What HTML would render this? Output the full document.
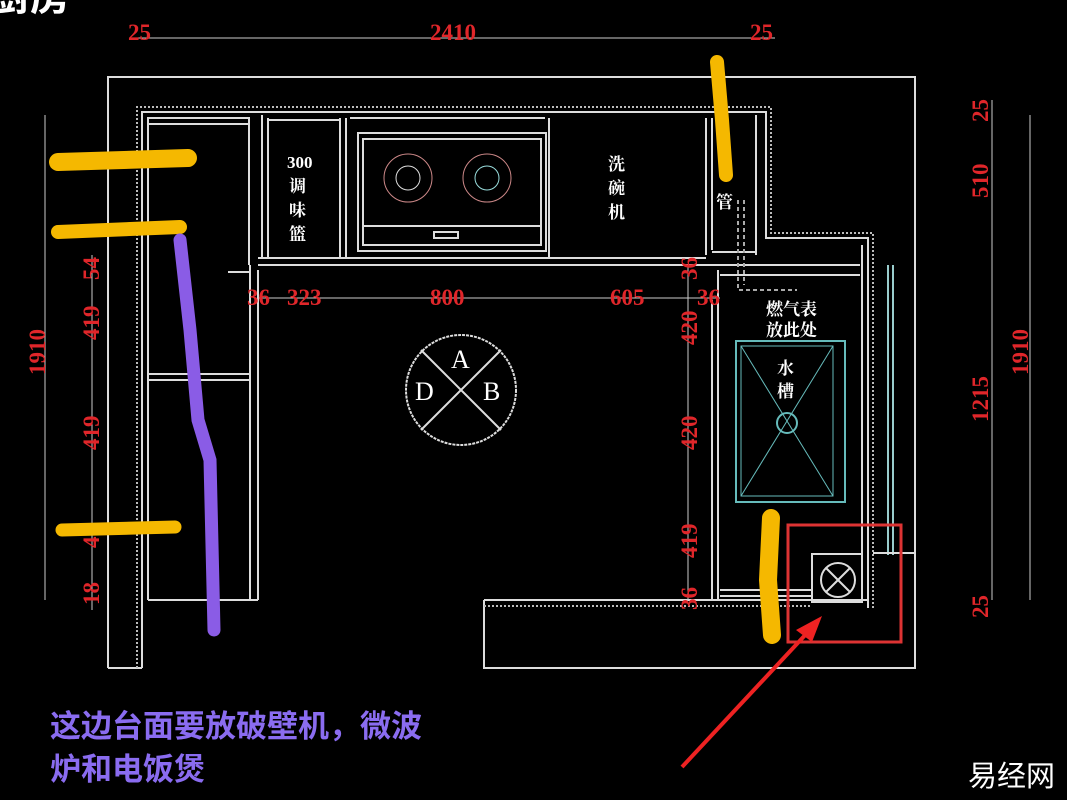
<!DOCTYPE html>
<html><head><meta charset="utf-8"><style>
html,body{margin:0;padding:0;background:#000;width:1067px;height:800px;overflow:hidden}
svg{display:block}
.r{fill:#e0262a;font-family:"Liberation Serif","Noto Serif CJK SC",serif;font-size:23px;font-weight:bold}
.w{fill:#fff;font-family:"Liberation Serif","Noto Serif CJK SC",serif;font-size:17px;font-weight:bold}
</style></head><body>
<svg width="1067" height="800" viewBox="0 0 1067 800">
<g stroke="#ddd" stroke-width="2" fill="none">
<polyline points="108,668 108,77 915,77 915,668 484,668 484,600"/>
<line x1="108" y1="668" x2="142" y2="668"/>
<polyline points="142,668 142,112 766,112 766,238 868,238 868,608"/>
<polyline points="137,668 137,107 771,107 771,233 873,233 873,608" stroke-dasharray="2,2" stroke="#bbb"/>
<polyline points="484,600 868,600"/>
<polyline points="484,606 812,606" stroke-dasharray="2,2" stroke="#bbb"/>
<polyline points="148,600 148,118 249,118 249,265"/>
<line x1="148" y1="124" x2="249" y2="124"/>
<line x1="148" y1="374" x2="250" y2="374"/>
<line x1="148" y1="380" x2="250" y2="380"/>
<line x1="148" y1="600" x2="258" y2="600"/>
<line x1="250" y1="265" x2="250" y2="600"/>
<line x1="258" y1="270" x2="258" y2="600"/>
<line x1="228" y1="272" x2="250" y2="272"/>
<line x1="258" y1="258" x2="706" y2="258"/>
<line x1="258" y1="265" x2="860" y2="265"/>
<line x1="262" y1="115" x2="262" y2="258"/>
<line x1="268" y1="118" x2="268" y2="258"/>
<line x1="340" y1="118" x2="340" y2="258"/>
<line x1="346" y1="118" x2="346" y2="258"/>
<line x1="268" y1="120" x2="340" y2="120"/>
<line x1="350" y1="118" x2="545" y2="118"/>
<line x1="549" y1="118" x2="549" y2="258"/>
<rect x="358" y="133" width="188" height="118"/>
<rect x="363" y="139" width="178" height="106"/>
<line x1="363" y1="226" x2="541" y2="226"/>
<rect x="434" y="232" width="24" height="6"/>
<line x1="706" y1="118" x2="706" y2="255"/>
<line x1="712" y1="118" x2="712" y2="250"/>
<line x1="712" y1="252" x2="756" y2="252"/>
<line x1="756" y1="115" x2="756" y2="255"/>
<line x1="712" y1="300" x2="712" y2="600"/>
<line x1="718" y1="270" x2="718" y2="600"/>
<line x1="720" y1="275" x2="860" y2="275"/>
<line x1="720" y1="590" x2="812" y2="590"/>
<line x1="720" y1="596" x2="812" y2="596"/>
<polyline points="738,200 738,290 797,290" stroke-dasharray="4,3" stroke="#aaa"/>
<line x1="744" y1="200" x2="744" y2="285" stroke-dasharray="4,3" stroke="#aaa"/>
<line x1="862" y1="245" x2="862" y2="600"/>
<line x1="888" y1="265" x2="888" y2="555" stroke="#9cc"/>
<line x1="893" y1="265" x2="893" y2="555" stroke="#9cc"/>
<line x1="873" y1="553" x2="915" y2="553"/>
<rect x="812" y="554" width="50" height="48"/>
<circle cx="838" cy="580" r="17"/>
<line x1="826" y1="568" x2="850" y2="592"/><line x1="850" y1="568" x2="826" y2="592"/>
<circle cx="461" cy="390" r="55" stroke-dasharray="3,1"/>
<line x1="421" y1="350" x2="501" y2="430"/><line x1="501" y1="350" x2="421" y2="430"/>
</g>
<g fill="none" stroke="#c88">
<circle cx="408" cy="178" r="24"/><circle cx="408" cy="178" r="12" stroke="#ddd"/>
<circle cx="487" cy="178" r="24"/><circle cx="487" cy="178" r="12" stroke="#9dd"/>
</g>
<g fill="none" stroke="#6bb" stroke-width="2">
<rect x="736" y="341" width="109" height="161"/>
<rect x="741" y="346" width="92" height="150" stroke-width="1"/>
<line x1="741" y1="346" x2="833" y2="496" stroke-width="1"/><line x1="833" y1="346" x2="741" y2="496" stroke-width="1"/>
<circle cx="787" cy="423" r="10"/>
</g>
<g stroke="#ccc" stroke-width="1">
<line x1="130" y1="38" x2="775" y2="38"/>
<line x1="92" y1="255" x2="92" y2="610"/>
<line x1="45" y1="115" x2="45" y2="600"/>
<line x1="258" y1="298" x2="720" y2="298"/>
<line x1="688" y1="265" x2="688" y2="600"/>
<line x1="992" y1="100" x2="992" y2="600"/>
<line x1="1030" y1="115" x2="1030" y2="600"/>
</g>
<g class="r">
<text x="128" y="40">25</text><text x="430" y="40">2410</text><text x="750" y="40">25</text>
<text x="247" y="305">36</text><text x="287" y="305">323</text><text x="430" y="305">800</text><text x="610" y="305">605</text><text x="697" y="305">36</text>
<g transform="rotate(-90)">
<text x="-280" y="99">54</text><text x="-340" y="99">419</text><text x="-450" y="99">419</text><text x="-548" y="99">41</text><text x="-605" y="99">18</text>
<text x="-375" y="45">1910</text>
<text x="-280" y="697">36</text><text x="-345" y="697">420</text><text x="-450" y="697">420</text><text x="-558" y="697">419</text><text x="-610" y="697">36</text>
<text x="-122" y="988">25</text><text x="-198" y="988">510</text><text x="-422" y="988">1215</text><text x="-618" y="988">25</text>
<text x="-375" y="1028">1910</text>
</g>
</g>
<g class="w">
<text x="287" y="168">300</text><text x="289" y="192">调</text><text x="289" y="216">味</text><text x="289" y="240">篮</text>
<text x="608" y="170">洗</text><text x="608" y="194">碗</text><text x="608" y="218">机</text>
<text x="716" y="208">管</text>
<text x="766" y="315">燃气表</text><text x="766" y="336">放此处</text>
<text x="777" y="374">水</text><text x="777" y="397">槽</text>
</g>
<g fill="#fff" font-family="Liberation Serif,serif" font-size="26">
<text x="451" y="368">A</text><text x="483" y="400">B</text><text x="415" y="400">D</text>
</g>
<rect x="788" y="525" width="113" height="117" fill="none" stroke="#d33" stroke-width="3"/>
<line x1="682" y1="767" x2="808" y2="632" stroke="#e22" stroke-width="4"/>
<polygon points="822,616 796,630 812,642" fill="#e22"/>
<g stroke-linecap="round" fill="none">
<path d="M58 162 L188 158" stroke="#f5b800" stroke-width="18"/>
<path d="M58 232 L180 227" stroke="#f5b800" stroke-width="14"/>
<path d="M62 530 L175 527" stroke="#f5b800" stroke-width="13"/>
<path d="M180 240 L190 330 L198 420 L210 460 L214 630" stroke="#8a5ce6" stroke-width="13"/>
<path d="M717 62 L722 120 L726 175" stroke="#f5b800" stroke-width="14"/>
<path d="M771 518 L768 580 L772 635" stroke="#f5b800" stroke-width="18"/>
</g>
<g font-family="Liberation Sans,'Noto Sans CJK SC',sans-serif" font-size="31" font-weight="bold" fill="#8a6cf0">
<text x="50" y="737">这边台面要放破壁机，微波</text>
<text x="50" y="780">炉和电饭煲</text>
</g>
<text x="968" y="786" font-family="Liberation Sans,'Noto Sans CJK SC',sans-serif" font-size="29" fill="#fff">易经网</text>
<text x="-10" y="10" font-family="Liberation Sans,'Noto Sans CJK SC',sans-serif" font-size="40" font-weight="bold" fill="#fff">厨房</text>
</svg>
</body></html>
